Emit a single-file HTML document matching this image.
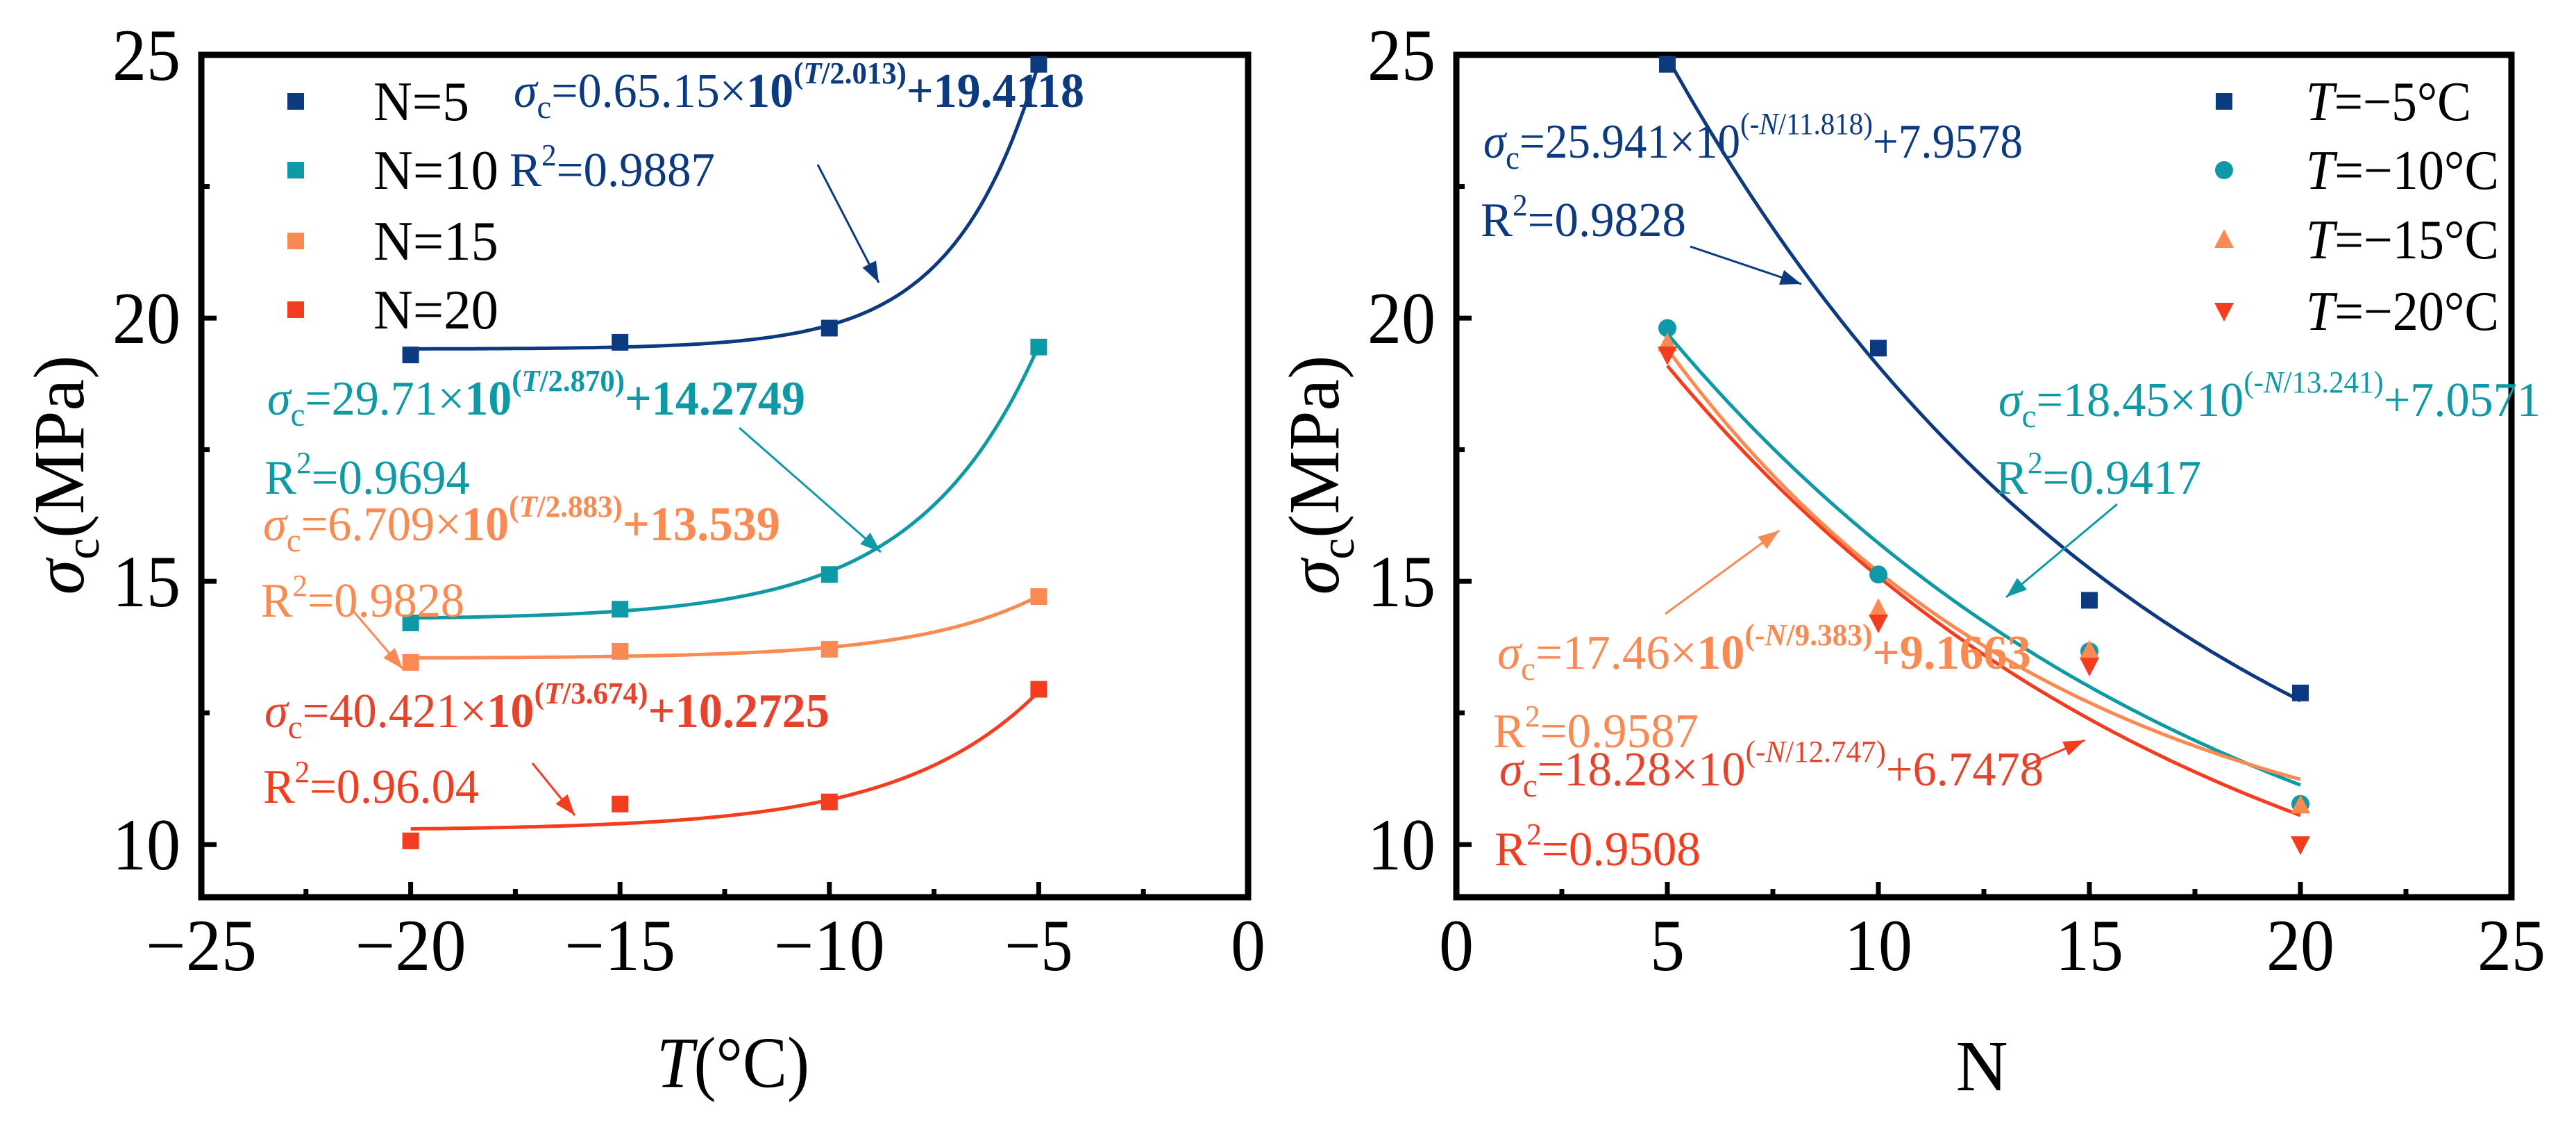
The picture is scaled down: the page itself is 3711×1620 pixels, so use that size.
<!DOCTYPE html>
<html><head><meta charset="utf-8"><style>
html,body{margin:0;padding:0;background:#fff;}
svg, svg text{font-family:"Liberation Serif","Times New Roman",Times,serif;}
</style></head><body>
<svg id="chart" width="3711" height="1615" viewBox="0 0 3711 1615" xmlns="http://www.w3.org/2000/svg" font-family="Liberation Serif, Times New Roman, serif">
<rect x="0" y="0" width="3711" height="1615" fill="#fff"/>
<g id="left"></g>
<g id="right"></g>
</svg>
<script>
// ---------- data ----------
const leftX = [-20, -15, -10, -5];
const leftSeriesNames = ["N=5", "N=10", "N=15", "N=20"];
const leftN5 = [19.30, 19.54, 19.81, 24.82];
const leftN10 = [14.21, 14.47, 15.13, 19.45];
const leftN15 = [13.46, 13.67, 13.71, 14.71];
const leftN20 = [10.07, 10.77, 10.81, 12.95];
const leftFitA = [65.15, 29.71, 6.709, 12.0];
const leftFitT = [2.013, 2.870, 2.883, 3.3];
const leftFitY0 = [19.4118, 14.2749, 13.539, 10.27];

const rightX = [5, 10, 15, 20];
const rightSeriesNames = ["−5°C", "−10°C", "−15°C", "−20°C"];
const rightT5 = [24.82, 19.43, 14.64, 12.88];
const rightT10 = [19.81, 15.13, 13.67, 10.77];
const rightT15 = [19.53, 14.48, 13.69, 10.75];
const rightT20 = [19.30, 14.21, 13.39, 10.00];
const rightFitA = [25.941, 18.45, 17.46, 18.28];
const rightFitT = [11.818, 13.241, 9.383, 12.747];
const rightFitY0 = [7.9578, 7.0571, 9.1663, 6.7478];

const leftXTicks = [-25, -20, -15, -10, -5, 0];
const rightXTicks = [0, 5, 10, 15, 20, 25];
const yTicks = [10, 15, 20, 25];

const COLORS = ["#0b3a80", "#0e99a7", "#fa8a52", "#f63c1e"];
const NS = "http://www.w3.org/2000/svg";
const FF = "Liberation Serif, Times New Roman, serif";

function mk(parent, tag, attrs) {
  const e = document.createElementNS(NS, tag);
  for (const k in attrs) e.setAttribute(k, attrs[k]);
  if (tag === 'text') e.setAttribute('font-family', FF);
  parent.appendChild(e);
  return e;
}

const Y0 = 79, Y1 = 1292;
function yScale(v) { return Y1 - (v - 9) / 16 * (Y1 - Y0); }
function makeX(x0, x1, d0, d1) { return v => x0 + (v - d0) / (d1 - d0) * (x1 - x0); }
function labW(s) { return s.length === 1 ? 50 : (s.length === 2 ? 98 : 160); }

function drawFrame(g, x0, x1, xs, xticks, xmin, xmax) {
  const f = mk(g, 'rect', {x: x0, y: Y0, width: x1 - x0, height: Y1 - Y0, fill: 'none', stroke: '#000', 'stroke-width': 9});
  
  
  for (let v = xmin; v <= xmax + 0.01; v += 2.5) {
    const major = Math.abs(v % 5) < 0.01;
    const t = mk(g, 'line', {x1: xs(v), x2: xs(v), y1: Y1, y2: Y1 - (major ? 22 : 12), stroke: '#000', 'stroke-width': 7});
    
    
  }
  for (let v = 10; v <= 25; v += 2.5) {
    const major = Math.abs(v % 5) < 0.01;
    const t = mk(g, 'line', {x1: x0, x2: x0 + (major ? 22 : 12), y1: yScale(v), y2: yScale(v), stroke: '#000', 'stroke-width': 7});
    
    
  }
  xticks.forEach(v => {
    const s = v < 0 ? '−' + Math.abs(v) : String(v);
    const t = mk(g, 'text', {x: xs(v), y: 1397, 'font-size': 106, 'text-anchor': 'middle', fill: '#000', textLength: labW(s), lengthAdjust: 'spacingAndGlyphs'});
    t.textContent = s;
    
    
  });
  yTicks.forEach(v => {
    const t = mk(g, 'text', {x: x0 - 30, y: yScale(v) + 36, 'font-size': 106, 'text-anchor': 'end', fill: '#000', textLength: 98, lengthAdjust: 'spacingAndGlyphs'});
    t.textContent = String(v);
    
    
  });
}

function marker(g, shape, x, y, c) {
  let e;
  if (shape === 'square') e = mk(g, 'rect', {x: x - 12, y: y - 12, width: 24, height: 24, fill: c});
  else if (shape === 'circle') e = mk(g, 'circle', {cx: x, cy: y, r: 13, fill: c});
  else if (shape === 'up') e = mk(g, 'polygon', {points: `${x},${y-15} ${x+14},${y+12} ${x-14},${y+12}`, fill: c});
  else e = mk(g, 'polygon', {points: `${x},${y+15} ${x+14},${y-12} ${x-14},${y-12}`, fill: c});
  return e;
}

function curve(g, xs, f, a, b, c) {
  let d = '';
  for (let i = 0; i <= 120; i++) {
    const v = a + (b - a) * i / 120;
    d += (i ? 'L' : 'M') + xs(v).toFixed(1) + ',' + yScale(f(v)).toFixed(1);
  }
  return mk(g, 'path', {d: d, fill: 'none', stroke: c, 'stroke-width': 5});
}

function arrow(g, x1, y1, x2, y2, c) {
  mk(g, 'line', {x1: x1, y1: y1, x2: x2, y2: y2, stroke: c, 'stroke-width': 3});
  const ang = Math.atan2(y2 - y1, x2 - x1), L = 30, W = 11;
  const bx = x2 - L * Math.cos(ang), by = y2 - L * Math.sin(ang);
  const px = -Math.sin(ang) * W, py = Math.cos(ang) * W;
  return mk(g, 'polygon', {points: `${x2},${y2} ${bx+px},${by+py} ${bx-px},${by-py}`, fill: c});
}

function eq(g, x, y, w, c, html, name) {
  const t = mk(g, 'text', {x: x, y: y, 'font-size': 70, fill: c, textLength: w, lengthAdjust: 'spacingAndGlyphs'});
  t.innerHTML = html;
  
  
  return t;
}
const SIG = '<tspan font-style="italic">σ</tspan><tspan font-size="48" dy="16">c</tspan><tspan dy="-16">=</tspan>';
function sup(s) { return `<tspan font-size="44" dy="-34">${s}</tspan><tspan dy="34">`; }
const R2 = 'R<tspan font-size="44" dy="-30">2</tspan><tspan dy="30">=';

// ---------- LEFT ----------
(function () {
  const g = document.getElementById('left');
  const x0 = 290, x1 = 1798;
  const xs = makeX(x0, x1, -25, 0);
  drawFrame(g, x0, x1, xs, leftXTicks, -25, 0);
  const series = [leftN5, leftN10, leftN15, leftN20];
  series.forEach((s, k) => {
    const cg = mk(g, 'g', {});
    
    
    curve(cg, xs, v => leftFitA[k] * Math.exp(v / leftFitT[k]) + leftFitY0[k], -20, -5, COLORS[k]);
    s.forEach((v, i) => {
      const m = marker(g, 'square', xs(leftX[i]), yScale(v), COLORS[k]);
      
      
    });
  });
  const legY = [146, 245, 347, 446];
  const legW = [138, 180, 180, 180];
  leftSeriesNames.forEach((n, k) => {
    const m = marker(g, 'square', 426, legY[k], COLORS[k]);
    
    
    const t = mk(g, 'text', {x: 538, y: legY[k] + 27, 'font-size': 80, fill: '#000', textLength: legW[k], lengthAdjust: 'spacingAndGlyphs'});
    t.textContent = n;
    
    
  });
  eq(g, 740, 154, 822, COLORS[0], SIG + '0.65.15×<tspan font-weight="bold">10</tspan>' + sup('<tspan font-weight="bold">(<tspan font-style="italic">T</tspan>/2.013)</tspan>') + '<tspan font-weight="bold">+19.4118</tspan></tspan>', 'equation-n5');
  eq(g, 734, 268, 296, COLORS[0], R2 + '0.9887</tspan>', 'r2-n5');
  arrow(g, 1178, 237, 1266, 407, COLORS[0]);
  eq(g, 385, 597, 775, COLORS[1], SIG + '29.71×<tspan font-weight="bold">10</tspan>' + sup('<tspan font-weight="bold">(<tspan font-style="italic">T</tspan>/2.870)</tspan>') + '<tspan font-weight="bold">+14.2749</tspan></tspan>', 'equation-n10');
  eq(g, 381, 711, 296, COLORS[1], R2 + '0.9694</tspan>', 'r2-n10');
  arrow(g, 1065, 616, 1269, 795, COLORS[1]);
  eq(g, 379, 778, 745, COLORS[2], SIG + '6.709×<tspan font-weight="bold">10</tspan>' + sup('<tspan font-weight="bold">(<tspan font-style="italic">T</tspan>/2.883)</tspan>') + '<tspan font-weight="bold">+13.539</tspan></tspan>', 'equation-n15');
  eq(g, 376, 888, 293, COLORS[2], R2 + '0.9828</tspan>', 'r2-n15');
  arrow(g, 509, 880, 580, 963, COLORS[2]);
  eq(g, 381, 1047, 814, '#e5442c', SIG + '40.421×<tspan font-weight="bold">10</tspan>' + sup('<tspan font-weight="bold">(<tspan font-style="italic">T</tspan>/3.674)</tspan>') + '<tspan font-weight="bold">+10.2725</tspan></tspan>', 'equation-n20');
  eq(g, 379, 1156, 311, COLORS[3], R2 + '0.96.04</tspan>', 'r2-n20');
  arrow(g, 767, 1099, 828, 1174, COLORS[3]);
  const xt = mk(g, 'text', {x: 1056, y: 1565, 'font-size': 104, 'text-anchor': 'middle', fill: '#000', textLength: 220, lengthAdjust: 'spacingAndGlyphs'});
  xt.innerHTML = '<tspan font-style="italic">T</tspan>(°C)';
  
  
  const yt = mk(g, 'text', {x: 0, y: 0, 'font-size': 104, 'text-anchor': 'middle', fill: '#000', transform: 'translate(120,684) rotate(-90)', textLength: 345, lengthAdjust: 'spacingAndGlyphs'});
  yt.innerHTML = '<tspan font-style="italic">σ</tspan><tspan font-size="70" dy="22">c</tspan><tspan dy="-22">(MPa)</tspan>';
  
  
})();

// ---------- RIGHT ----------
(function () {
  const g = document.getElementById('right');
  const x0 = 2098, x1 = 3618;
  const xs = makeX(x0, x1, 0, 25);
  drawFrame(g, x0, x1, xs, rightXTicks, 0, 25);
  const series = [rightT5, rightT10, rightT15, rightT20];
  const shapes = ['square', 'circle', 'up', 'down'];
  series.forEach((s, k) => {
    const cg = mk(g, 'g', {});
    
    
    curve(cg, xs, v => rightFitA[k] * Math.exp(-v / rightFitT[k]) + rightFitY0[k], 5, 20, COLORS[k]);
  });
  series.forEach((s, k) => {
    s.forEach((v, i) => {
      const m = marker(g, shapes[k], xs(rightX[i]), yScale(v), COLORS[k]);
      
      
    });
  });
  const legY = [146, 245, 345, 448];
  const legW = [238, 278, 278, 278];
  rightSeriesNames.forEach((n, k) => {
    const m = marker(g, shapes[k], 3204, legY[k], COLORS[k]);
    
    
    const t = mk(g, 'text', {x: 3322, y: legY[k] + 27, 'font-size': 80, fill: '#000', textLength: legW[k], lengthAdjust: 'spacingAndGlyphs'});
    t.innerHTML = '<tspan font-style="italic">T</tspan>=' + n;
    
    
  });
  eq(g, 2137, 227, 777, COLORS[0], SIG + '25.941×10' + sup('(-<tspan font-style="italic">N</tspan>/11.818)') + '+7.9578</tspan>', 'equation-t5');
  eq(g, 2133, 340, 296, COLORS[0], R2 + '0.9828</tspan>', 'r2-t5');
  arrow(g, 2435, 355, 2595, 409, COLORS[0]);
  eq(g, 2879, 599, 781, COLORS[1], SIG + '18.45×10' + sup('(-<tspan font-style="italic">N</tspan>/13.241)') + '+7.0571</tspan>', 'equation-t10');
  eq(g, 2875, 711, 296, COLORS[1], R2 + '0.9417</tspan>', 'r2-t10');
  arrow(g, 3050, 726, 2890, 860, COLORS[1]);
  arrow(g, 2399, 884, 2563, 764, COLORS[2]);
  eq(g, 2157, 963, 769, COLORS[2], SIG + '17.46×<tspan font-weight="bold">10</tspan>' + sup('<tspan font-weight="bold">(-<tspan font-style="italic">N</tspan>/9.383)</tspan>') + '<tspan font-weight="bold">+9.1663</tspan></tspan>', 'equation-t15');
  eq(g, 2151, 1076, 296, COLORS[2], R2 + '0.9587</tspan>', 'r2-t15');
  eq(g, 2160, 1131, 784, '#e5442c', SIG + '18.28×10' + sup('(-<tspan font-style="italic">N</tspan>/12.747)') + '+6.7478</tspan>', 'equation-t20');
  arrow(g, 2920, 1102, 3003, 1066, COLORS[3]);
  eq(g, 2153, 1246, 297, COLORS[3], R2 + '0.9508</tspan>', 'r2-t20');
  const xt = mk(g, 'text', {x: 2855, y: 1570, 'font-size': 104, 'text-anchor': 'middle', fill: '#000'});
  xt.textContent = 'N';
  
  
  const yt = mk(g, 'text', {x: 0, y: 0, 'font-size': 104, 'text-anchor': 'middle', fill: '#000', transform: 'translate(1928,684) rotate(-90)', textLength: 345, lengthAdjust: 'spacingAndGlyphs'});
  yt.innerHTML = '<tspan font-style="italic">σ</tspan><tspan font-size="70" dy="22">c</tspan><tspan dy="-22">(MPa)</tspan>';
  
  
})();
</script>
</body></html>
